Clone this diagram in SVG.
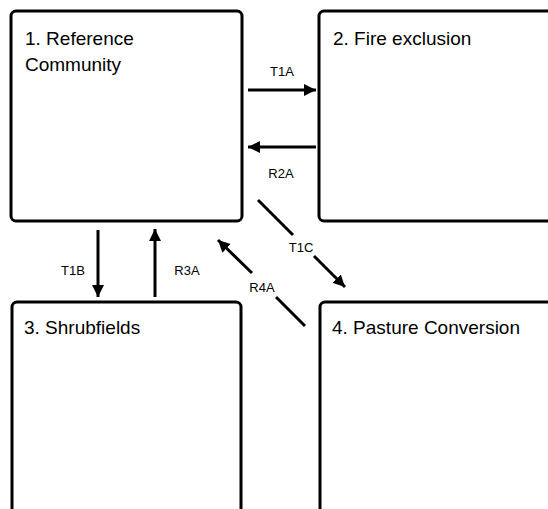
<svg xmlns="http://www.w3.org/2000/svg" width="548" height="509" viewBox="0 0 548 509">
<style>
.box{fill:#fff;stroke:#000;stroke-width:3}
.title{font-family:"Liberation Sans",Arial,sans-serif;font-size:19px;fill:#000}
.lbl{font-family:"Liberation Sans",Arial,sans-serif;font-size:13px;fill:#000;text-anchor:middle}
.conn{fill:none;stroke:#000;stroke-width:3;marker-end:url(#ah)}
</style>
<defs>
<marker id="ah" viewBox="0 0 10 10" refX="10" refY="5" markerWidth="12" markerHeight="13" markerUnits="userSpaceOnUse" orient="auto">
<path d="M0,0 L10,5 L0,10 z" fill="#000"/>
</marker>
</defs>
<rect width="548" height="509" fill="#fff"/>
<g id="node1">
<rect class="box" x="11" y="11" width="231" height="210" rx="5"/>
<text class="title" x="25" y="45">1. Reference</text>
<text class="title" x="25" y="71">Community</text>
</g>
<g id="node2">
<rect class="box" x="319" y="11" width="260" height="210" rx="5"/>
<text class="title" x="333" y="45">2. Fire exclusion</text>
</g>
<g id="node3">
<rect class="box" x="12" y="302" width="229" height="240" rx="5"/>
<text class="title" x="24" y="334">3. Shrubfields</text>
</g>
<g id="node4">
<rect class="box" x="320" y="302" width="260" height="240" rx="5"/>
<text class="title" x="332" y="334">4. Pasture Conversion</text>
</g>
<g id="connectors">
<path class="conn" d="M248,90 L316,90"/>
<path class="conn" d="M316,147 L248,147"/>
<path class="conn" d="M98,230 L98,297"/>
<path class="conn" d="M155,297 L155,229"/>
<path class="conn" d="M258,200 L293,235 M314,256 L345,287"/>
<path class="conn" d="M305,326 L276,297 M252,273 L218,240"/>
<text class="lbl" x="282" y="76">T1A</text>
<text class="lbl" x="281" y="178">R2A</text>
<text class="lbl" x="73" y="275">T1B</text>
<text class="lbl" x="187" y="275">R3A</text>
<text class="lbl" x="301" y="252">T1C</text>
<text class="lbl" x="262" y="292">R4A</text>
</g>
</svg>
